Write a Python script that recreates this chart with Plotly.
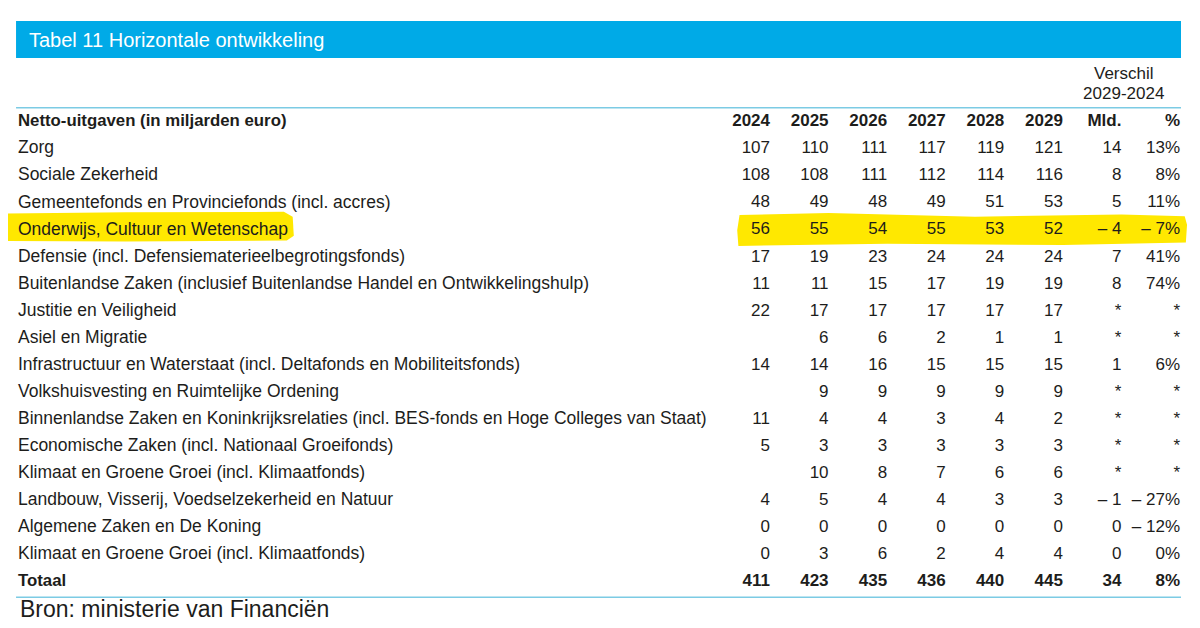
import plotly.graph_objects as go

# data
labels = [
    "Zorg",
    "Sociale Zekerheid",
    "Gemeentefonds en Provinciefonds (incl. accres)",
    "Onderwijs, Cultuur en Wetenschap",
    "Defensie (incl. Defensiematerieelbegrotingsfonds)",
    "Buitenlandse Zaken (inclusief Buitenlandse Handel en Ontwikkelingshulp)",
    "Justitie en Veiligheid",
    "Asiel en Migratie",
    "Infrastructuur en Waterstaat (incl. Deltafonds en Mobiliteitsfonds)",
    "Volkshuisvesting en Ruimtelijke Ordening",
    "Binnenlandse Zaken en Koninkrijksrelaties (incl. BES-fonds en Hoge Colleges van Staat)",
    "Economische Zaken (incl. Nationaal Groeifonds)",
    "Klimaat en Groene Groei (incl. Klimaatfonds)",
    "Landbouw, Visserij, Voedselzekerheid en Natuur",
    "Algemene Zaken en De Koning",
    "Klimaat en Groene Groei (incl. Klimaatfonds)",
]
years = ["2024", "2025", "2026", "2027", "2028", "2029"]
y2024 = [107, 108, 48, 56, 17, 11, 22, None, 14, None, 11, 5, None, 4, 0, 0]
y2025 = [110, 108, 49, 55, 19, 11, 17, 6, 14, 9, 4, 3, 10, 5, 0, 3]
y2026 = [111, 111, 48, 54, 23, 15, 17, 6, 16, 9, 4, 3, 8, 4, 0, 6]
y2027 = [117, 112, 49, 55, 24, 17, 17, 2, 15, 9, 3, 3, 7, 4, 0, 2]
y2028 = [119, 114, 51, 53, 24, 19, 17, 1, 15, 9, 4, 3, 6, 3, 0, 4]
y2029 = [121, 116, 53, 52, 24, 19, 17, 1, 15, 9, 2, 3, 6, 3, 0, 4]
# None = "*" in the source
diff_mld = [14, 8, 5, -4, 7, 8, None, None, 1, None, None, None, None, -1, 0, 0]
diff_pct = [13, 8, 11, -7, 41, 74, None, None, 6, None, None, None, None, -27, -12, 0]
totals = [411, 423, 435, 436, 440, 445]
total_mld = 34
total_pct = 8

highlight_row = "Onderwijs, Cultuur en Wetenschap"

ink = "#1d1d1b"
blue = "#00aae7"
line_blue = "#7ccbe4"
yellow = "#ffe800"
font = "Liberation Sans"


def fmt(v, suffix=""):
    if v is None:
        return "*"
    if v < 0:
        return "\u2013 " + str(-v) + suffix
    return str(v) + suffix


def fmt_year(v):
    return "" if v is None else str(v)


n = len(labels)
row_y = list(range(1, n + 1))
total_y = n + 1
label_x = -11.84
all_y = [0] + row_y + [total_y]

fig = go.Figure()

# row labels (header + totaal bold)
fig.add_trace(go.Scatter(
    x=[label_x, label_x],
    y=[0, total_y],
    mode="text",
    text=["<b>Netto-uitgaven (in miljarden euro)</b>", "<b>Totaal</b>"],
    textposition="middle right",
    textfont=dict(family=font, size=16.8, color=ink),
    hoverinfo="skip"))
fig.add_trace(go.Scatter(
    x=[label_x] * n,
    y=row_y,
    mode="text",
    text=labels,
    textposition="middle right",
    textfont=dict(family=font, size=17.5, color=ink),
    hoverinfo="skip"))

# number columns
columns = [y2024, y2025, y2026, y2027, y2028, y2029]
col_text = [["<b>%s</b>" % yr] + [fmt_year(v) for v in vals] + ["<b>%d</b>" % t]
            for yr, vals, t in zip(years, columns, totals)]
col_text.append(["<b>Mld.</b>"] + [fmt(v) for v in diff_mld] + ["<b>%d</b>" % total_mld])
col_text.append(["<b>%</b>"] + [fmt(v, "%") for v in diff_pct] + ["<b>%d%%</b>" % total_pct])

for i, txt in enumerate(col_text):
    fig.add_trace(go.Scatter(
        x=[i + 1] * len(all_y),
        y=all_y,
        mode="text",
        text=txt,
        textposition="middle left",
        textfont=dict(family=font, size=17, color=ink),
        hoverinfo="skip"))

# "Verschil 2029-2024" group header
fig.add_trace(go.Scatter(
    x=[7.04, 7.04],
    y=[-1.74, -1.0],
    mode="text",
    text=["Verschil", "2029-2024"],
    textposition="middle center",
    textfont=dict(family=font, size=17, color=ink),
    hoverinfo="skip"))

shapes = []
# yellow marker highlight
hr = labels.index(highlight_row) + 1
shapes.append(dict(
    type="path", xref="x", yref="y", layer="below", line=dict(width=0), fillcolor=yellow,
    path=("M -12.1 %.2f L -10 %.2f L -7.3 %.2f L -7.15 %.2f L -7.13 %.2f "
          "L -7.25 %.2f L -10 %.2f L -12.1 %.2f Z") % (
        hr - 0.62, hr - 0.66, hr - 0.68, hr - 0.5, hr + 0.2, hr + 0.38, hr + 0.42, hr + 0.4)))
shapes.append(dict(
    type="path", xref="x", yref="y", layer="below", line=dict(width=0), fillcolor=yellow,
    path=("M 0.48 %.2f L 2 %.2f L 4.5 %.2f L 7 %.2f L 8.08 %.2f L 8.12 %.2f "
          "L 8.1 %.2f L 6 %.2f L 3 %.2f L 0.46 %.2f L 0.44 %.2f Z") % (
        hr - 0.56, hr - 0.64, hr - 0.5, hr - 0.58, hr - 0.52, hr - 0.2,
        hr + 0.45, hr + 0.55, hr + 0.5, hr + 0.58, hr)))
# rules
shapes.append(dict(type="line", xref="paper", yref="y", x0=0.0067, x1=0.9775, y0=-0.53, y1=-0.53,
                   line=dict(color=line_blue, width=1.5)))
shapes.append(dict(type="line", xref="paper", yref="y", x0=0.0067, x1=0.9775, y0=17.56, y1=17.56,
                   line=dict(color=line_blue, width=1.5)))
# title bar
shapes.append(dict(type="rect", xref="paper", yref="paper", x0=0.0067, x1=0.9775, y0=0.9204, y1=0.9793,
                   line=dict(width=0), fillcolor=blue, layer="below"))

layout = go.Layout(
    width=1200,
    height=628,
    margin=dict(l=0, r=0, t=0, b=0),
    paper_bgcolor="white",
    plot_bgcolor="white",
    showlegend=False,
    xaxis=dict(range=[-12.01, 8.478], visible=False, fixedrange=True),
    yaxis=dict(range=[18.996, -4.213], visible=False, fixedrange=True),
    shapes=shapes,
    annotations=[
        dict(text="Tabel 11 Horizontale ontwikkeling", xref="paper", yref="paper",
             x=0.016, y=0.9498, xanchor="left", yanchor="middle", showarrow=False,
             font=dict(family=font, size=20, color="white")),
        dict(text="Bron: ministerie van Financiën", xref="x", yref="y",
             x=label_x, y=total_y + 1.0, xanchor="left", yanchor="middle", showarrow=False,
             font=dict(family=font, size=23, color=ink)),
    ],
)

fig.update_layout(layout)
fig.write_html("out.html", config=dict(displayModeBar=False))
